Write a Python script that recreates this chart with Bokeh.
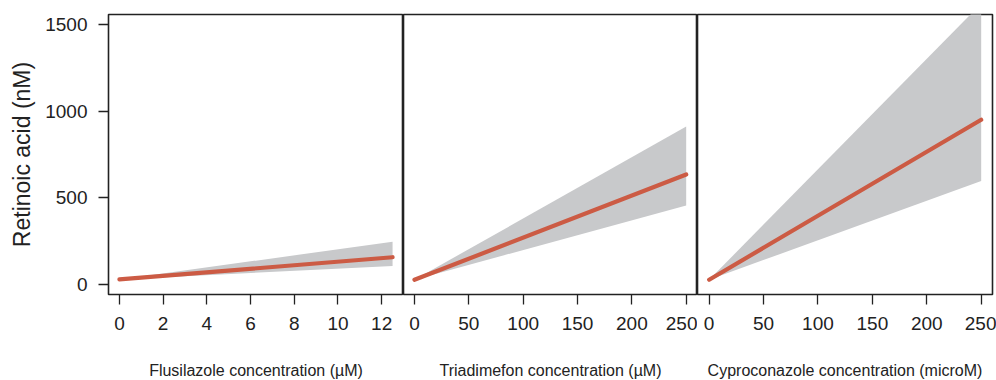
from bokeh.plotting import figure
from bokeh.layouts import row
from bokeh.models import FixedTicker, Range1d
from bokeh.embed import file_html
from bokeh.resources import INLINE

# ---- data ----
y_ticks = [0, 500, 1000, 1500]

flu_conc = [0, 12.5]
flu_fit = [29, 157]
flu_lower = [29, 106]
flu_upper = [29, 246]
flu_ticks = [0, 2, 4, 6, 8, 10, 12]

tri_conc = [0, 250]
tri_fit = [27, 634]
tri_lower = [27, 456]
tri_upper = [27, 911]

cyp_conc = [0, 250]
cyp_fit = [27, 950]
cyp_lower = [27, 596]
cyp_upper = [27, 1620]
conc_ticks = [0, 50, 100, 150, 200, 250]

labels = ["Flusilazole concentration (\u00b5M)",
          "Triadimefon concentration (\u00b5M)",
          "Cyproconazole concentration (microM)"]

FONT = "Liberation Sans"
LINE_COLOR = "#cc5b44"
BAND_COLOR = "#c8c9cb"
INK = "#222222"


def panel(conc, fit, lower, upper, xr, ticks, label, fw, left, right, show_y):
    p = figure(frame_width=fw, frame_height=280,
               x_range=Range1d(*xr), y_range=Range1d(-58, 1557),
               output_backend="svg", toolbar_location=None,
               min_border_left=left, min_border_right=right,
               min_border_top=14, min_border_bottom=86)
    p.grid.visible = False
    p.outline_line_color = INK
    p.outline_line_width = 1.6
    p.outline_line_alpha = 1
    p.background_fill_color = "white"
    p.border_fill_color = "white"

    p.varea(x=conc, y1=lower, y2=upper, fill_color=BAND_COLOR, fill_alpha=1)
    p.line(x=conc, y=fit, line_color=LINE_COLOR, line_width=4.2, line_cap="round")

    xa = p.xaxis[0]
    xa.ticker = FixedTicker(ticks=ticks)
    xa.axis_line_color = None
    xa.major_tick_line_color = INK
    xa.major_tick_line_width = 1.3
    xa.major_tick_out = 10
    xa.major_tick_in = 0
    xa.minor_tick_line_color = None
    xa.major_label_text_font = FONT
    xa.major_label_text_font_size = "19px"
    xa.major_label_text_color = INK
    xa.major_label_standoff = 12
    xa.axis_label = label
    xa.axis_label_text_font = FONT
    xa.axis_label_text_font_size = "16px"
    xa.axis_label_text_font_style = "normal"
    xa.axis_label_text_color = INK
    xa.axis_label_standoff = 29

    ya = p.yaxis[0]
    if show_y:
        ya.ticker = FixedTicker(ticks=y_ticks)
        ya.axis_line_color = None
        ya.major_tick_line_color = INK
        ya.major_tick_line_width = 1.3
        ya.major_tick_out = 10
        ya.major_tick_in = 0
        ya.minor_tick_line_color = None
        ya.major_label_text_font = FONT
        ya.major_label_text_font_size = "19px"
        ya.major_label_text_color = INK
        ya.major_label_standoff = 11
        ya.axis_label = "Retinoic acid (nM)"
        ya.axis_label_text_font = FONT
        ya.axis_label_text_font_size = "23px"
        ya.axis_label_text_font_style = "normal"
        ya.axis_label_text_color = INK
        ya.axis_label_standoff = 7
    else:
        ya.visible = False
    return p


p1 = panel(flu_conc, flu_fit, flu_lower, flu_upper, (-0.5, 13.0), flu_ticks,
           labels[0], 295, 108, 0, True)
p2 = panel(tri_conc, tri_fit, tri_lower, tri_upper, (-10.1, 260.4), conc_ticks,
           labels[1], 294, 0, 0, False)
p3 = panel(cyp_conc, cyp_fit, cyp_lower, cyp_upper, (-10.7, 260.4), conc_ticks,
           labels[2], 295, 0, 4, False)

layout = row(p1, p2, p3, spacing=0)
open("out.html", "w").write(file_html(layout, INLINE))
